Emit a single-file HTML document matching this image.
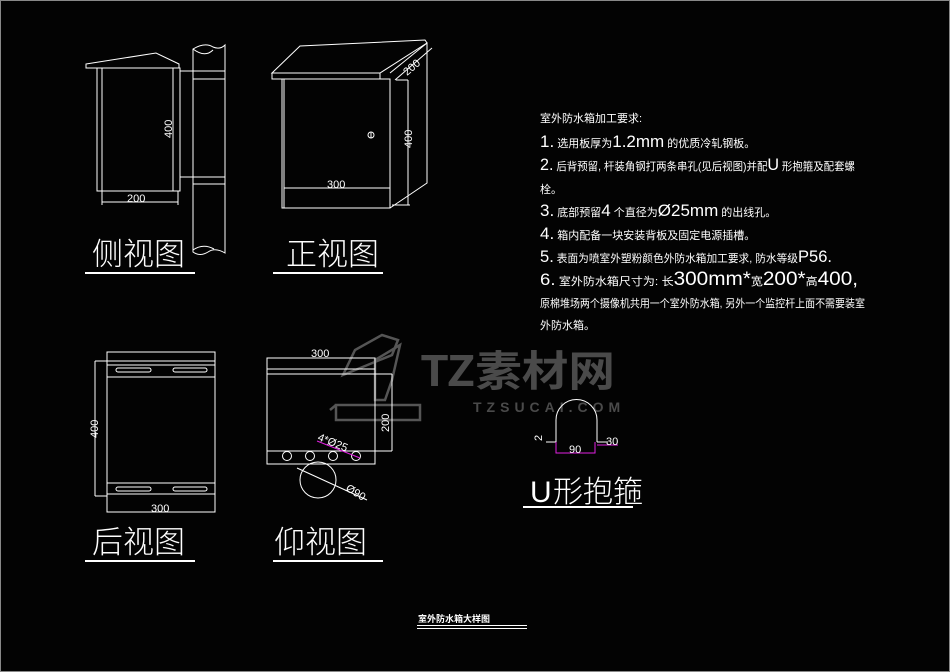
<!DOCTYPE html>
<html><head><meta charset="utf-8"><style>
html,body{margin:0;padding:0;background:#000;}
svg{display:block}
text{font-family:"Liberation Sans","Noto Sans CJK SC",sans-serif;fill:#fff}
.cjk{font-family:"Noto Sans CJK SC","WenQuanYi Zen Hei",sans-serif;}
</style></head><body>
<svg width="950" height="672" viewBox="0 0 950 672" xmlns="http://www.w3.org/2000/svg">
<rect x="0" y="0" width="950" height="672" fill="#030303"/>
<rect x="0.5" y="0.5" width="949" height="671" fill="none" stroke="#888" stroke-width="1"/>

<!-- watermark -->
<g fill="none" stroke="#555" stroke-width="2.5">
<polygon points="343,375 392,355 398,340 382,335 355,350"/>
<polygon points="375,360 400,345 392,380 385,400 375,400"/>
<polygon points="336,405 420,405 420,420 336,420"/>
<line x1="330" y1="410" x2="336" y2="405"/>
</g>
<text x="420" y="386" font-size="42" font-weight="bold" textLength="195" lengthAdjust="spacingAndGlyphs" style="fill:#4a4a4a" class="cjk">TZ素材网</text>
<text x="473" y="412" font-size="14" font-weight="bold" letter-spacing="5" style="fill:#4a4a4a">TZSUCAI.COM</text>

<g fill="none" stroke="#fff" stroke-width="1">
<!-- side view -->
<polygon points="86,64 156,53 179,64 179,68 86,68"/>
<rect x="97" y="68" width="83" height="123"/>
<line x1="102" y1="68" x2="102" y2="191"/>
<line x1="173" y1="68" x2="173" y2="191"/>
<line x1="102" y1="202" x2="178" y2="202"/>
<line x1="102" y1="191" x2="102" y2="205"/>
<line x1="178" y1="191" x2="178" y2="205"/>
<line x1="180" y1="71" x2="193" y2="71"/>
<line x1="180" y1="177" x2="193" y2="177"/>
<path d="M193,49 Q205,42 213,47 Q220,50 225,45 L225,253 Q215,247 208,252 Q200,257 193,252 Z"/>
<path d="M193,49 Q205,58 213,50"/>
<path d="M193,250 Q203,243 214,249"/>
<rect x="193" y="71" width="32" height="8"/>
<rect x="193" y="177" width="32" height="7"/>
<!-- front view -->
<polygon points="272,73 300,46 425,40 427,43 380,73"/>
<rect x="272" y="73" width="108" height="6"/>
<rect x="282" y="79" width="108" height="129"/>
<line x1="284" y1="79" x2="284" y2="208"/>
<line x1="284" y1="188" x2="390" y2="188"/>
<polyline points="390,73 427,43 427,183 390,208"/>
<line x1="408" y1="80" x2="408" y2="205"/>
<line x1="396" y1="80" x2="408" y2="80"/>
<line x1="392" y1="205" x2="410" y2="205"/>
<line x1="395" y1="80" x2="432" y2="48"/>
<circle cx="371" cy="135" r="3"/>
<line x1="371" y1="132" x2="371" y2="138"/>
<!-- back view -->
<rect x="107" y="352" width="108" height="160"/>
<line x1="107" y1="361" x2="215" y2="361"/>
<line x1="107" y1="365" x2="215" y2="365"/>
<line x1="107" y1="377" x2="215" y2="377"/>
<line x1="107" y1="483" x2="215" y2="483"/>
<line x1="107" y1="494" x2="215" y2="494"/>
<rect x="116" y="368" width="35" height="4" rx="2"/>
<rect x="173" y="368" width="34" height="4" rx="2"/>
<rect x="116" y="487" width="35" height="4" rx="2"/>
<rect x="173" y="487" width="34" height="4" rx="2"/>
<line x1="95" y1="361" x2="95" y2="496"/>
<line x1="95" y1="361" x2="107" y2="361"/>
<line x1="95" y1="496" x2="107" y2="496"/>
<line x1="111" y1="512" x2="213" y2="512"/>
<!-- bottom view -->
<rect x="267" y="358" width="108" height="106"/>
<line x1="267" y1="369" x2="375" y2="369"/>
<line x1="267" y1="374" x2="392" y2="374"/>
<line x1="267" y1="451" x2="392" y2="451"/>
<line x1="392" y1="374" x2="392" y2="451"/>
<circle cx="287" cy="456" r="4.5"/>
<circle cx="310" cy="456" r="4.5"/>
<circle cx="333" cy="456" r="4.5"/>
<circle cx="356" cy="456" r="4.5"/>
<circle cx="318" cy="480" r="18"/>
<line x1="297" y1="468" x2="367" y2="500"/>
<!-- U clamp -->
<path d="M556,442 L556,420 A20,20 0 0 1 597,420 L597,442"/>
<line x1="546" y1="442" x2="556" y2="442"/>
<line x1="597" y1="442" x2="608" y2="442"/>
</g>
<line x1="317" y1="441" x2="360" y2="458" stroke="#e020e0" stroke-width="1"/>
<polyline points="556,442 556,453 595,453 595,442" fill="none" stroke="#e020e0"/>
<line x1="597" y1="445" x2="618" y2="445" stroke="#e020e0"/>

<!-- dimension texts -->
<text x="127" y="202" font-size="11">200</text>
<text transform="translate(172,138) rotate(-90)" font-size="11">400</text>
<text x="327" y="188" font-size="11">300</text>
<text transform="translate(412,148) rotate(-90)" font-size="11">400</text>
<text transform="translate(407,76) rotate(-40)" font-size="11">200</text>
<text transform="translate(98,438) rotate(-90)" font-size="11">400</text>
<text x="151" y="512" font-size="11">300</text>
<text x="311" y="357" font-size="11">300</text>
<text transform="translate(389,432) rotate(-90)" font-size="11">200</text>
<text transform="translate(317,440) rotate(22)" font-size="11">4*Ø25</text>
<text transform="translate(345,490) rotate(32)" font-size="11">Ø90</text>
<text transform="translate(542,441) rotate(-90)" font-size="11">2</text>
<text x="569" y="453" font-size="11">90</text>
<text x="606" y="445" font-size="11">30</text>

<!-- labels -->
<g class="cjk">
<text x="92" y="265" font-size="31" font-weight="300">侧视图</text>
<text x="286" y="265" font-size="31" font-weight="300">正视图</text>
<text x="92" y="553" font-size="31" font-weight="300">后视图</text>
<text x="274" y="553" font-size="31" font-weight="300">仰视图</text>
<text x="530" y="502" font-size="30" font-weight="300">U</text>
<text x="553" y="502" font-size="30" font-weight="300">形抱箍</text>
</g>
<g fill="#fff">
<rect x="85" y="272" width="110" height="2"/>
<rect x="273" y="272" width="110" height="2"/>
<rect x="85" y="560" width="110" height="2"/>
<rect x="273" y="560" width="110" height="2"/>
<rect x="523" y="506" width="110" height="2"/>
<rect x="417" y="625" width="110" height="1"/>
<rect x="417" y="628" width="110" height="1"/>
</g>
<text x="418" y="622" font-size="9" font-weight="bold" class="cjk">室外防水箱大样图</text>

<!-- notes -->
<g class="cjk" font-size="11">
<text x="540" y="122" font-size="11">室外防水箱加工要求:</text>
<text x="540" y="147"><tspan font-size="17">1.</tspan> 选用板厚为<tspan font-size="17">1.2mm</tspan> 的优质冷轧钢板。</text>
<text x="540" y="170" textLength="315" lengthAdjust="spacingAndGlyphs"><tspan font-size="17">2.</tspan> 后背预留, 杆装角钢打两条串孔(见后视图)并配<tspan font-size="17">U</tspan> 形抱箍及配套螺</text>
<text x="540" y="193">栓。</text>
<text x="540" y="216"><tspan font-size="17">3.</tspan> 底部预留<tspan font-size="17">4</tspan> 个直径为<tspan font-size="17">Ø25mm</tspan> 的出线孔。</text>
<text x="540" y="239"><tspan font-size="17">4.</tspan> 箱内配备一块安装背板及固定电源插槽。</text>
<text x="540" y="262" textLength="292" lengthAdjust="spacingAndGlyphs"><tspan font-size="17">5.</tspan> 表面为喷室外塑粉颜色外防水箱加工要求, 防水等级<tspan font-size="17">P56.</tspan></text>
<text x="540" y="285" textLength="318" lengthAdjust="spacingAndGlyphs"><tspan font-size="17">6.</tspan> 室外防水箱尺寸为: 长<tspan font-size="19">300mm*</tspan>宽<tspan font-size="19">200*</tspan>高<tspan font-size="19">400,</tspan></text>
<text x="540" y="307" textLength="325" lengthAdjust="spacingAndGlyphs">原棉堆场两个摄像机共用一个室外防水箱, 另外一个监控杆上面不需要装室</text>
<text x="540" y="329">外防水箱。</text>
</g>
</svg>
</body></html>
